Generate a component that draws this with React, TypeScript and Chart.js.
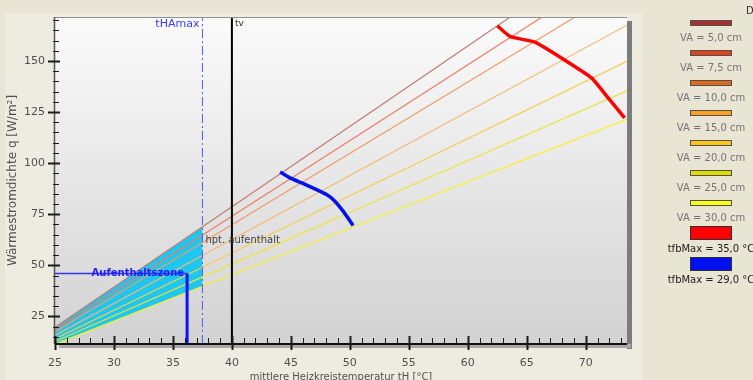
import React, { useEffect, useRef } from "react";
import { Chart, registerables } from "chart.js";

Chart.register(...registerables);

// ---- axis settings ----
const xMin = 25;
const xMax = 73.5;
const yMin = 11.5;
const yMax = 171.5;
const xTickValues = [25, 30, 35, 40, 45, 50, 55, 60, 65, 70];
const yTickValues = [25, 50, 75, 100, 125, 150];
const xMinorStep = 1;
const yMinorStep = 5;

// ---- VA curves (tH [°C], q [W/m²]) ----
const va50: [number, number][] = [[25, 19.7], [40, 78.6], [55, 137.6], [63.6, 171.5]];
const va75: [number, number][] = [[25, 18.5], [40, 74.0], [55, 129.5], [66.3, 171.5]];
const va100: [number, number][] = [[25, 17.5], [40, 69.8], [55, 122.2], [69.1, 171.5]];
const va150: [number, number][] = [[25, 15.7], [40, 62.6], [55, 109.6], [73.5, 167.5]];
const va200: [number, number][] = [[25, 14.0], [40, 56.0], [55, 98.0], [73.5, 149.8]];
const va250: [number, number][] = [[25, 12.7], [40, 50.6], [55, 88.6], [73.5, 135.4]];
const va300: [number, number][] = [[25, 11.4], [40, 45.4], [55, 79.5], [73.5, 121.4]];

const vaLabels = ["VA = 5,0 cm", "VA = 7,5 cm", "VA = 10,0 cm", "VA = 15,0 cm", "VA = 20,0 cm", "VA = 25,0 cm", "VA = 30,0 cm"];
const vaColors = ["#a83030", "#dc4420", "#e06818", "#ffa020", "#ffc418", "#e0dc00", "#ffff10"];
const vaPlotColors = ["#c27a72", "#ee7a62", "#f09a66", "#f4b870", "#f6cc50", "#eee23a", "#f8f020"];

// ---- tfbMax limit curves ----
const tfb35: [number, number][] = [[62.5, 167.2], [63.6, 161.9], [65.7, 159.2], [68.2, 150.5], [70.5, 141.7], [71.9, 131.9], [73.3, 122.1]];
const tfb29: [number, number][] = [[44.09, 95.7], [44.93, 92.8], [45.92, 90.3], [47.04, 87.4], [48.03, 84.6], [48.73, 81.4], [49.43, 76.5], [50.28, 69.5]];
const tfbLabels = ["tfbMax = 35,0 °C", "tfbMax = 29,0 °C"];
const tfbColors = ["#ff0000", "#0010f0"];

// ---- zone (Aufenthaltszone) ----
const zoneTop: [number, number][] = [[25, 19.7], [37.5, 68.8]];
const zoneBottom: [number, number][] = [[25, 11.4], [37.5, 39.7]];
const tHAmax = 37.5;
const tV = 40;
const zoneQ = 46;
const zoneT = 36.2;

const xTitle = "mittlere Heizkreistemperatur tH [°C]";
const yTitle = "Wärmestromdichte q [W/m²]";

const pts = (a: [number, number][]) => a.map(([x, y]) => ({ x, y }));

const decorPlugin = {
  id: "decor",
  beforeDraw(chart: any) {
    const { ctx, chartArea: a, width, height } = chart;
    ctx.save();
    ctx.fillStyle = "#e8e5d5";
    ctx.fillRect(0, 0, width, height);
    ctx.fillStyle = "#eeebe0";
    ctx.fillRect(5, 13, 637, height - 13);
    // shadow
    ctx.fillStyle = "#7c7c7c";
    ctx.fillRect(a.right, a.top + 4, 5, a.bottom - a.top + 1);
    ctx.fillStyle = "#a8a8a8";
    ctx.fillRect(a.left + 4, a.bottom, a.right - a.left, 4);
    // plot gradient
    const g = ctx.createLinearGradient(0, a.top, 0, a.bottom);
    g.addColorStop(0, "#fbfbfb");
    g.addColorStop(1, "#d2d2d2");
    ctx.fillStyle = g;
    ctx.fillRect(a.left, a.top, a.right - a.left, a.bottom - a.top);
    ctx.restore();
  },
  afterDraw(chart: any) {
    const { ctx, chartArea: a } = chart;
    const xs = chart.scales.x;
    const ys = chart.scales.y;
    ctx.save();
    // borders
    ctx.strokeStyle = "#909090";
    ctx.lineWidth = 1;
    ctx.beginPath();
    ctx.moveTo(a.left, a.top + 0.5);
    ctx.lineTo(a.right, a.top + 0.5);
    ctx.stroke();
    ctx.strokeStyle = "#555555";
    ctx.lineWidth = 1.5;
    ctx.beginPath();
    ctx.moveTo(a.left - 0.5, a.top);
    ctx.lineTo(a.left - 0.5, a.bottom);
    ctx.stroke();
    ctx.strokeStyle = "#111111";
    ctx.lineWidth = 2;
    ctx.beginPath();
    ctx.moveTo(a.left, a.bottom);
    ctx.lineTo(a.right, a.bottom);
    ctx.stroke();

    // x ticks
    ctx.strokeStyle = "#1a1a1a";
    for (let v = xMin; v <= xMax + 1e-6; v += xMinorStep) {
      const px = Math.round(xs.getPixelForValue(v)) + 0.5;
      const major = xTickValues.includes(v);
      ctx.lineWidth = major ? 2 : 1;
      ctx.beginPath();
      ctx.moveTo(px, a.bottom - (major ? 8 : 6));
      ctx.lineTo(px, a.bottom + (major ? 6 : 0));
      ctx.stroke();
    }
    // y ticks
    for (let v = 15; v <= yMax; v += yMinorStep) {
      const py = Math.round(ys.getPixelForValue(v)) + 0.5;
      const major = yTickValues.includes(v);
      ctx.lineWidth = major ? 2 : 1;
      ctx.beginPath();
      ctx.moveTo(a.left - (major ? 7 : 2), py);
      ctx.lineTo(a.left + (major ? 5 : 4), py);
      ctx.stroke();
    }

    // reference labels
    ctx.textBaseline = "middle";
    ctx.font = "11px 'DejaVu Sans'";
    ctx.fillStyle = "#3a3aff";
    ctx.textAlign = "right";
    ctx.fillText("tHAmax", xs.getPixelForValue(tHAmax) - 3, a.top + 7);
    ctx.font = "9px 'DejaVu Sans'";
    ctx.fillStyle = "#333333";
    ctx.textAlign = "left";
    ctx.fillText("tv", xs.getPixelForValue(tV) + 3, a.top + 7);
    ctx.font = "10px 'DejaVu Sans'";
    ctx.fillStyle = "#404040";
    ctx.fillText("hpt. aufenthalt", xs.getPixelForValue(tHAmax) + 3, ys.getPixelForValue(62));
    ctx.font = "bold 10px 'DejaVu Sans'";
    ctx.fillStyle = "#2020ff";
    ctx.textAlign = "right";
    ctx.fillText("Aufenthaltszone", xs.getPixelForValue(zoneT) - 3, ys.getPixelForValue(zoneQ));

    // axis titles
    ctx.fillStyle = "#505050";
    ctx.textAlign = "center";
    ctx.font = "10px 'DejaVu Sans'";
    ctx.fillText(xTitle, (a.left + a.right) / 2, 377);
    ctx.save();
    ctx.translate(13, (a.top + a.bottom) / 2);
    ctx.rotate(-Math.PI / 2);
    ctx.font = "12px 'DejaVu Sans'";
    ctx.fillText(yTitle, 0, 0);
    ctx.restore();

    // legend
    const cx = 711;
    ctx.font = "10px 'DejaVu Sans'";
    ctx.textAlign = "center";
    vaLabels.forEach((lab, i) => {
      const yc = 23 + 30 * i;
      ctx.fillStyle = vaColors[i];
      ctx.fillRect(cx - 20, yc - 2, 40, 4);
      ctx.strokeStyle = "#505050";
      ctx.lineWidth = 1;
      ctx.strokeRect(cx - 20.5, yc - 2.5, 41, 5);
      ctx.fillStyle = "#747474";
      ctx.fillText(lab, cx, yc + 15);
    });
    tfbLabels.forEach((lab, i) => {
      const yc = 233 + 31 * i;
      ctx.fillStyle = tfbColors[i];
      ctx.fillRect(cx - 20, yc - 6, 40, 12);
      ctx.strokeStyle = "#303030";
      ctx.lineWidth = 1;
      ctx.strokeRect(cx - 20.5, yc - 6.5, 41, 13);
      ctx.fillStyle = "#222222";
      ctx.fillText(lab, cx, yc + 16);
    });
    ctx.textAlign = "left";
    ctx.fillStyle = "#303030";
    ctx.fillText("D", 746, 11);
    ctx.restore();
  },
};

export default function App() {
  const ref = useRef<HTMLCanvasElement | null>(null);
  useEffect(() => {
    if (!ref.current) return;
    const vaSets = [va50, va75, va100, va150, va200, va250, va300].map((s, i) => ({
      label: vaLabels[i],
      data: pts(s),
      borderColor: vaPlotColors[i],
      borderWidth: 1.2,
      pointRadius: 0,
      fill: false,
      order: 4,
    }));
    const yBottom = yMin;
    const yTop = yMax;
    const chart = new Chart(ref.current, {
      type: "line",
      data: {
        datasets: [
          { label: "zoneTop", data: pts(zoneTop), borderWidth: 0, pointRadius: 0, backgroundColor: "#1ec6f0", fill: 1, order: 6 },
          { label: "zoneBottom", data: pts(zoneBottom), borderWidth: 0, pointRadius: 0, fill: false, order: 7 },
          ...vaSets,
          { label: tfbLabels[0], data: pts(tfb35), borderColor: tfbColors[0], borderWidth: 3.5, pointRadius: 0, fill: false, order: 2, tension: 0.12 },
          { label: tfbLabels[1], data: pts(tfb29), borderColor: tfbColors[1], borderWidth: 3.5, pointRadius: 0, fill: false, order: 2, tension: 0.12 },
          { label: "tHAmax", data: [{ x: tHAmax, y: yBottom }, { x: tHAmax, y: yTop }], borderColor: "#4a5cff", borderWidth: 1, borderDash: [9, 3, 2, 3], pointRadius: 0, fill: false, order: 1 },
          { label: "tv", data: [{ x: tV, y: yBottom }, { x: tV, y: yTop }], borderColor: "#000000", borderWidth: 2, pointRadius: 0, fill: false, order: 1 },
          { label: "zoneH", data: [{ x: xMin, y: zoneQ }, { x: zoneT, y: zoneQ }], borderColor: "#3030ff", borderWidth: 1.5, pointRadius: 0, fill: false, order: 1 },
          { label: "zoneV", data: [{ x: zoneT, y: zoneQ }, { x: zoneT, y: yBottom }], borderColor: "#1010ff", borderWidth: 3, pointRadius: 0, fill: false, order: 1 },
        ],
      },
      options: {
        responsive: false,
        animation: false,
        events: [],
        layout: { padding: { left: 0, right: 126, top: 17, bottom: 0 } },
        plugins: { legend: { display: false }, tooltip: { enabled: false } },
        scales: {
          x: {
            type: "linear",
            min: xMin,
            max: xMax,
            grid: { display: false, drawTicks: false },
            border: { display: false },
            afterBuildTicks: (s: any) => { s.ticks = xTickValues.map((value) => ({ value })); },
            afterFit: (s: any) => { s.height = 36; },
            ticks: { padding: 13, color: "#505050", font: { family: "DejaVu Sans", size: 11 }, maxRotation: 0, autoSkip: false },
          },
          y: {
            type: "linear",
            min: yMin,
            max: yMax,
            grid: { display: false, drawTicks: false },
            border: { display: false },
            afterBuildTicks: (s: any) => { s.ticks = yTickValues.map((value) => ({ value })); },
            afterFit: (s: any) => { s.width = 55; },
            ticks: { padding: 10, color: "#505050", font: { family: "DejaVu Sans", size: 11 }, autoSkip: false },
          },
        },
      } as any,
      plugins: [decorPlugin],
    });
    return () => chart.destroy();
  }, []);
  return (
    <div style={{ position: "fixed", left: 0, top: 0, width: 753, height: 380, background: "#e8e5d5" }}>
      <canvas ref={ref} width={753} height={380} style={{ display: "block" }} />
    </div>
  );
}
